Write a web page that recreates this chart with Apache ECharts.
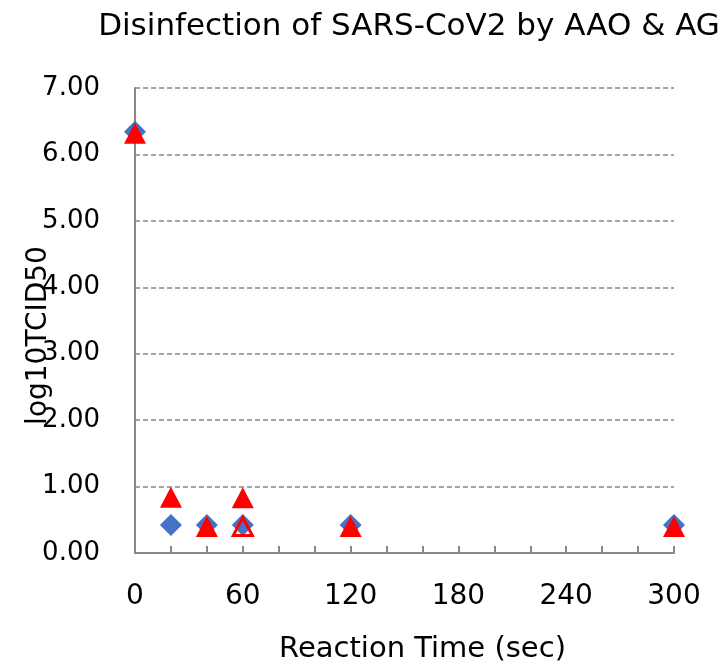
<!DOCTYPE html>
<html>
<head>
<meta charset="utf-8">
<script src="https://cdn.jsdelivr.net/npm/echarts@6/dist/echarts.min.js"></script>
<style>
  html, body { margin: 0; padding: 0; background: #fff; }
  #chart { width: 728px; height: 665px; }
</style>
</head>
<body>
<div id="chart"></div>
<script>
// reaction time (sec) and log10 TCID50 values
const aaoTimes = [0, 20, 40, 60, 120, 300]
const aaoValues = [6.34, 0.42, 0.42, 0.42, 0.42, 0.42]
const agTimes = [0, 20, 40, 60, 60, 120, 300]
const agValues = [6.32, 0.84, 0.40, 0.83, 0.40, 0.40, 0.40]
const yTicks = [0, 1, 2, 3, 4, 5, 6, 7]
const xLabelTicks = [0, 60, 120, 180, 240, 300]

const font = 'DejaVu Sans'
const chart = echarts.init(document.getElementById('chart'))

const toPairs = (xs, ys) => xs.map((x, i) => [x, ys[i]])
const agData = toPairs(agTimes, agValues).map((p, i) => {
  // the lower triangle at 60 sec is drawn hollow
  if (i === 4) {
    return { value: p, symbolSize: [19, 18], itemStyle: { color: 'rgba(0,0,0,0)', borderColor: '#FF0000', borderWidth: 3 } }
  }
  return p
})

chart.setOption({
  animation: false,
  title: {
    text: 'Disinfection of SARS-CoV2 by AAO & AG',
    left: 404,
    textAlign: 'center',
    top: 6,
    textStyle: { fontFamily: font, fontSize: 31, fontWeight: 'normal', color: '#000' }
  },
  grid: { left: 135, right: 54, top: 88, bottom: 112, outerBoundsMode: 'none' },
  xAxis: {
    type: 'value',
    min: 0,
    max: 300,
    interval: 20,
    name: 'Reaction Time (sec)',
    nameLocation: 'middle',
    nameMoveOverlap: false,
    nameGap: 82,
    nameTextStyle: { fontFamily: font, fontSize: 29, color: '#000', padding: [0, 0, 0, 36] },
    axisLine: { lineStyle: { color: '#888', width: 2 } },
    axisTick: { inside: true, length: 7, lineStyle: { color: '#888', width: 2 } },
    splitLine: { show: false },
    axisLabel: {
      fontFamily: font, fontSize: 28, color: '#000', margin: 30,
      formatter: v => (xLabelTicks.includes(v) ? String(v) : '')
    }
  },
  yAxis: {
    type: 'value',
    min: yTicks[0],
    max: yTicks[yTicks.length - 1],
    interval: 1,
    name: 'log10TCID50',
    nameLocation: 'middle',
    nameRotate: 90,
    nameMoveOverlap: false,
    nameGap: 82,
    nameTextStyle: { fontFamily: font, fontSize: 28, color: '#000', padding: [0, 0, 0, -30] },
    axisLine: { show: true, lineStyle: { color: '#888', width: 2 } },
    axisTick: { show: false },
    splitLine: { lineStyle: { color: '#888', type: [5, 3], width: 1.5 } },
    axisLabel: {
      fontFamily: font, fontSize: 26, color: '#000', margin: 35,
      formatter: v => v.toFixed(2)
    }
  },
  series: [
    {
      name: 'AAO',
      type: 'scatter',
      symbol: 'diamond',
      symbolSize: 22,
      itemStyle: { color: '#4472C4', opacity: 1 },
      data: toPairs(aaoTimes, aaoValues),
      z: 2
    },
    {
      name: 'AG',
      type: 'scatter',
      symbol: 'triangle',
      symbolSize: [22, 21],
      itemStyle: { color: '#FF0000', opacity: 1 },
      data: agData,
      z: 3
    }
  ]
})
</script>
</body>
</html>
